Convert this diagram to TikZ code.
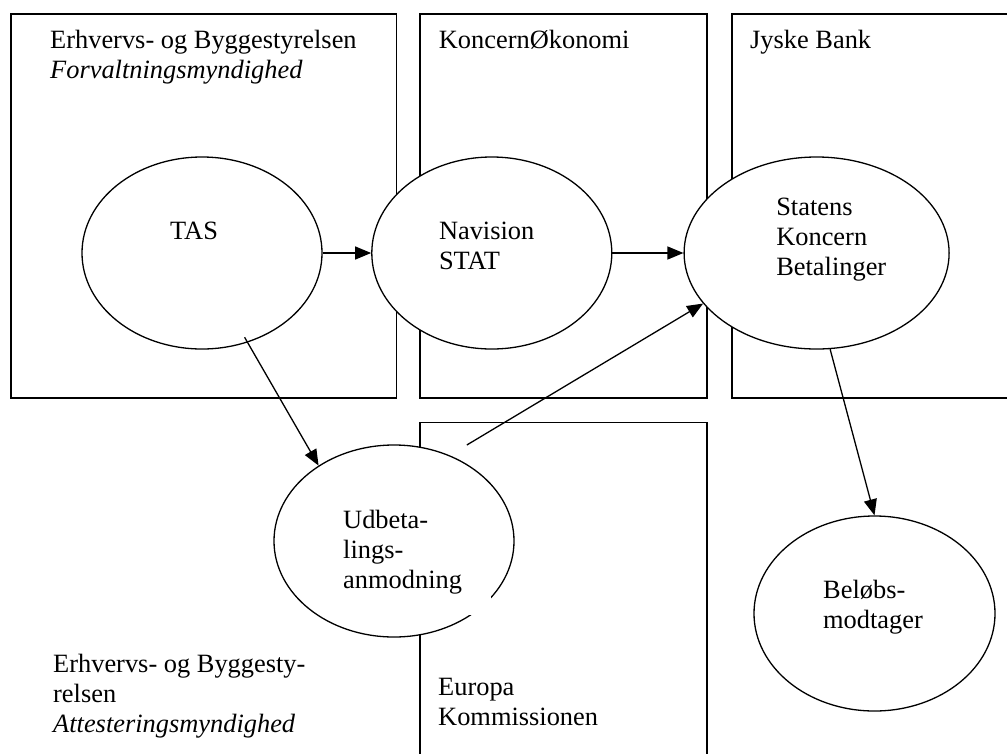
\documentclass[tikz,border=0pt]{standalone}
\usepackage{fontspec}
\setmainfont{Liberation Serif}
\usetikzlibrary{positioning,shapes.geometric,arrows.meta}

\begin{document}
\begin{tikzpicture}[x=1pt, y=-1pt,
    area/.style={draw, line width=1.8pt, anchor=north west, inner sep=0pt, minimum height=384pt},
    bubble/.style={ellipse, draw, fill=white, line width=1.3pt, minimum width=240pt, minimum height=192pt, inner sep=0pt},
    lbl/.style={font=\fontsize{26.4}{30}\selectfont, align=left, inner sep=0pt, anchor=base west},
    flow/.style={line width=1.3pt, -{Triangle[length=16pt, width=13pt]}}]
    \clip (0,0) rectangle (1007,753);

    % frames
    \node[area, minimum width=385.5pt] (ebs) at (10,13) {};
    \node[area, minimum width=287pt] (ko) at (419,13) {};
    \node[area, minimum width=282pt] (jb) at (731,13) {};
    \node[area, minimum width=287pt, minimum height=345pt] (ek) at (419,421.5) {};

    % systems
    \node[bubble] (tas) at (202,253) {};
    \node[bubble, right=48.5pt of tas] (nav) {};
    \node[bubble, right=71pt of nav, minimum width=265pt] (skb) {};
    \node[bubble] (udb) at (394,541) {};
    \node[bubble, minimum width=241pt, minimum height=195pt] (bel) at (874.5,613.5) {};
    \fill[white] (335,500) rectangle (491,615); % gap in outline

    \draw[flow] (tas) -- (nav);
    \draw[flow] (nav) -- (skb);
    \draw[flow, shorten <=-6pt] (tas.-63) -- (udb.135);
    \draw[flow, shorten <=20pt] (udb.57) -- (skb.204);
    \draw[flow] (skb.-82) -- (bel.north);

    % labels (base = last line)
    \node[lbl] (ebstxt) at ([xshift=40pt, yshift=-65pt]ebs.north west) {Erhvervs- og Byggestyrelsen\\\textit{Forvaltningsmyndighed}};
    \node[lbl] (kotxt) at ([xshift=19.7pt, yshift=-35pt]ko.north west) {KoncernØkonomi};
    \node[lbl] (jbtxt) at ([xshift=19pt, yshift=-35pt]jb.north west) {Jyske Bank};
    \node[lbl] (ektxt) at ([xshift=19pt, yshift=-303.5pt]ek.north west) {Europa\\Kommissionen};
    \node[lbl] (abstxt) at (53,732) {Erhvervs- og Byggesty-\\relsen\\\textit{Attesteringsmyndighed}};
    \node[lbl] (tastxt) at ([xshift=-32pt, yshift=14pt]tas.center) {TAS};
    \node[lbl] (navtxt) at ([xshift=-53pt, yshift=-16pt]nav.center) {Navision\\STAT};
    \node[lbl] (skbtxt) at ([xshift=-40.5pt, yshift=-22pt]skb.center) {Statens\\Koncern\\Betalinger};
    \node[lbl] (udbtxt) at ([xshift=-51pt, yshift=-47pt]udb.center) {Udbeta-\\lings-\\anmodning};
    \node[lbl] (beltxt) at ([xshift=-51.5pt, yshift=-14.5pt]bel.center) {Beløbs-\\modtager};
\end{tikzpicture}
\end{document}
